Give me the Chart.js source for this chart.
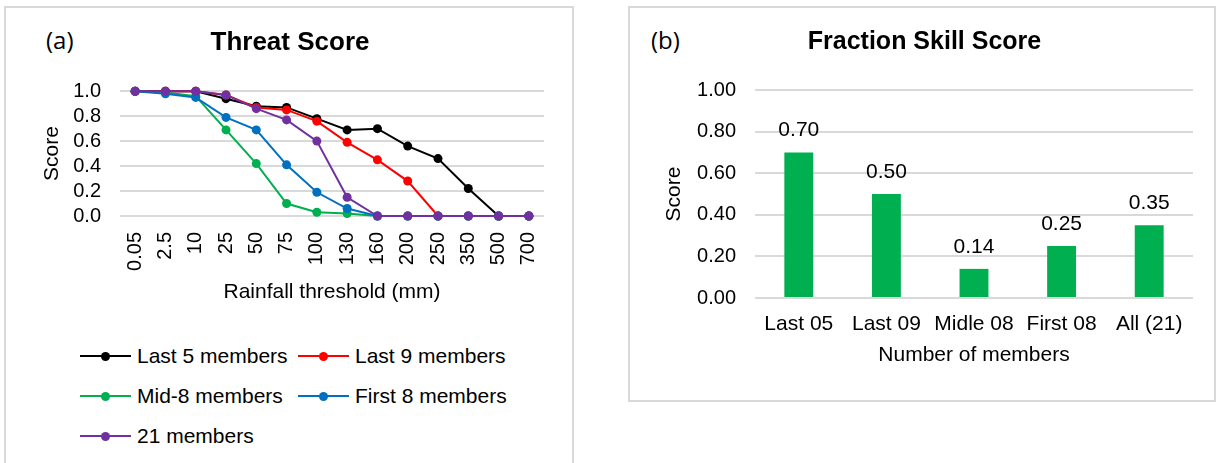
<!DOCTYPE html>
<html>
<head>
<meta charset="utf-8">
<script src="https://cdn.jsdelivr.net/npm/chart.js@4/dist/chart.umd.min.js"></script>
<style>
  body { margin: 0; width: 1220px; height: 463px; background: #fff; position: relative; overflow: hidden;
         font-family: "Liberation Sans", Arial, sans-serif; }
  .box { position: absolute; border: 2px solid #d9d9d9; box-sizing: border-box; }
  .tag { position: absolute; font-family: "Open Sans", sans-serif; font-size: 24px; color: #000; }
  canvas { position: absolute; }
  #legendA { position: absolute; left: 80px; top: 341px; width: 460px; }
  .item { position: absolute; height: 30px; display: flex; align-items: center; font-size: 21px; color: #000; white-space: nowrap; }
  .sym { position: relative; width: 51px; height: 2px; margin-right: 6px; }
  .sym i { position: absolute; left: 21px; top: -3.5px; width: 9px; height: 9px; border-radius: 50%; }
</style>
</head>
<body>
<div class="box" style="left:4px; top:6px; width:570px; height:470px;"></div>
<div class="box" style="left:628px; top:6px; width:588px; height:396px;"></div>
<div class="tag" style="left:46px; top:23px;">(a)</div>
<div class="tag" style="left:651px; top:23px;">(b)</div>

<div style="position:absolute; left:0; top:0; width:580px; height:330px;"><canvas id="threatChart"></canvas></div>
<div id="legendA"></div>
<div style="position:absolute; left:629px; top:0; width:591px; height:400px;"><canvas id="fssChart"></canvas></div>

<script>
// ---- Threat score (a) ----
const thresholds = ['0.05', '2.5', '10', '25', '50', '75', '100', '130', '160', '200', '250', '350', '500', '700'];
const last5 = [1.0, 1.0, 1.0, 0.94, 0.88, 0.87, 0.78, 0.69, 0.70, 0.56, 0.46, 0.22, 0.0, 0.0];
const last9 = [1.0, 1.0, 1.0, 0.97, 0.87, 0.85, 0.76, 0.59, 0.45, 0.28, 0.0, 0.0, 0.0, 0.0];
const mid8 = [1.0, 0.99, 0.96, 0.69, 0.42, 0.10, 0.03, 0.02, 0.0, 0.0, 0.0, 0.0, 0.0, 0.0];
const first8 = [1.0, 0.98, 0.95, 0.79, 0.69, 0.41, 0.19, 0.06, 0.0, 0.0, 0.0, 0.0, 0.0, 0.0];
const all21 = [1.0, 1.0, 1.0, 0.97, 0.86, 0.77, 0.60, 0.15, 0.0, 0.0, 0.0, 0.0, 0.0, 0.0];
const threatTicks = [0, 0.2, 0.4, 0.6, 0.8, 1.0];

// ---- Fraction skill score (b) ----
const memberGroups = ['Last 05', 'Last 09', 'Midle 08', 'First 08', 'All (21)'];
const fssValues = [0.70, 0.50, 0.14, 0.25, 0.35];
const fssTicks = [0, 0.2, 0.4, 0.6, 0.8, 1.0];

const FONT = '"Liberation Sans", Arial, sans-serif';
const GRID = '#d9d9d9';

Chart.defaults.font.family = FONT;
Chart.defaults.color = '#000';
Chart.defaults.animation = false;

const series = [
  { label: 'Last 5 members', data: last5, color: '#000000', order: 5 },
  { label: 'Last 9 members', data: last9, color: '#ff0000', order: 4 },
  { label: 'Mid-8 members', data: mid8, color: '#00b050', order: 3 },
  { label: 'First 8 members', data: first8, color: '#0070c0', order: 2 },
  { label: '21 members', data: all21, color: '#7030a0', order: 1 }
];

new Chart(document.getElementById('threatChart'), {
  type: 'line',
  data: {
    labels: thresholds,
    datasets: series.map(s => ({
      label: s.label,
      data: s.data,
      order: s.order,
      borderColor: s.color,
      backgroundColor: s.color,
      pointBackgroundColor: s.color,
      pointBorderColor: s.color,
      borderWidth: 2,
      pointRadius: 4.5,
      pointBorderWidth: 0,
      tension: 0,
      clip: false
    }))
  },
  options: {
    responsive: true,
    maintainAspectRatio: false,
    layout: { padding: { left: 36, right: 36, top: 0, bottom: 0 } },
    plugins: {
      legend: { display: false },
      tooltip: { enabled: false },
      title: {
        display: true,
        text: 'Threat Score',
        font: { size: 26, weight: 'bold' },
        padding: { top: 27, bottom: 33 }
      }
    },
    scales: {
      x: {
        offset: true,
        grid: { display: false },
        border: { display: false },
        ticks: { font: { size: 20 }, minRotation: 90, maxRotation: 90, padding: 8, autoSkip: false },
        title: { display: true, text: 'Rainfall threshold (mm)', font: { size: 21 }, padding: { top: 0, bottom: 25 } },
        afterFit: s => { s.height = 114; }
      },
      y: {
        min: 0,
        max: 1,
        grid: { color: GRID, lineWidth: 2, drawTicks: false },
        border: { display: false },
        afterBuildTicks: s => { s.ticks = threatTicks.map(v => ({ value: v })); },
        ticks: { font: { size: 20 }, padding: 19, autoSkip: false, callback: v => Number(v).toFixed(1) },
        title: { display: true, text: 'Score', font: { size: 21 }, padding: { top: 4, bottom: 0 } },
        afterFit: s => { s.width = 84; }
      }
    }
  }
});

// legend for (a), two columns like the original
const legendA = document.getElementById('legendA');
series.forEach((s, i) => {
  const el = document.createElement('div');
  el.className = 'item';
  el.style.left = (i % 2 === 0 ? 0 : 218) + 'px';
  el.style.top = (Math.floor(i / 2) * 40) + 'px';
  el.innerHTML = `<span class="sym" style="background:${s.color}"><i style="background:${s.color}"></i></span>${s.label}`;
  legendA.appendChild(el);
});

// value labels above the bars
const barValueLabels = {
  id: 'barValueLabels',
  afterDatasetsDraw(chart) {
    const ctx = chart.ctx;
    const meta = chart.getDatasetMeta(0);
    ctx.save();
    ctx.font = '21px ' + FONT;
    ctx.fillStyle = '#000';
    ctx.textAlign = 'center';
    ctx.textBaseline = 'middle';
    meta.data.forEach((bar, i) => {
      ctx.fillText(fssValues[i].toFixed(2), bar.x, bar.y - 22);
    });
    ctx.restore();
  }
};

new Chart(document.getElementById('fssChart'), {
  type: 'bar',
  data: {
    labels: memberGroups,
    datasets: [{
      label: 'FSS',
      data: fssValues,
      backgroundColor: '#00b050',
      categoryPercentage: 1,
      barPercentage: 0.33
    }]
  },
  options: {
    responsive: true,
    maintainAspectRatio: false,
    layout: { padding: { left: 27, right: 27, top: 0, bottom: 0 } },
    plugins: {
      legend: { display: false },
      tooltip: { enabled: false },
      title: {
        display: true,
        text: 'Fraction Skill Score',
        font: { size: 25, weight: 'bold' },
        padding: { top: 27, bottom: 33 }
      }
    },
    scales: {
      x: {
        grid: { display: false },
        border: { display: false },
        ticks: { font: { size: 21 }, padding: 6, autoSkip: false, maxRotation: 0 },
        title: { display: true, text: 'Number of members', font: { size: 21 }, padding: { top: 0, bottom: 32 } },
        afterFit: s => { s.height = 102; }
      },
      y: {
        min: 0,
        max: 1,
        grid: { color: GRID, lineWidth: 2, drawTicks: false },
        border: { display: false },
        afterBuildTicks: s => { s.ticks = fssTicks.map(v => ({ value: v })); },
        ticks: { font: { size: 20 }, padding: 19, autoSkip: false, callback: v => Number(v).toFixed(2) },
        title: { display: true, text: 'Score', font: { size: 21 }, padding: { top: 6, bottom: 0 } },
        afterFit: s => { s.width = 99; }
      }
    }
  },
  plugins: [barValueLabels]
});
</script>
</body>
</html>
